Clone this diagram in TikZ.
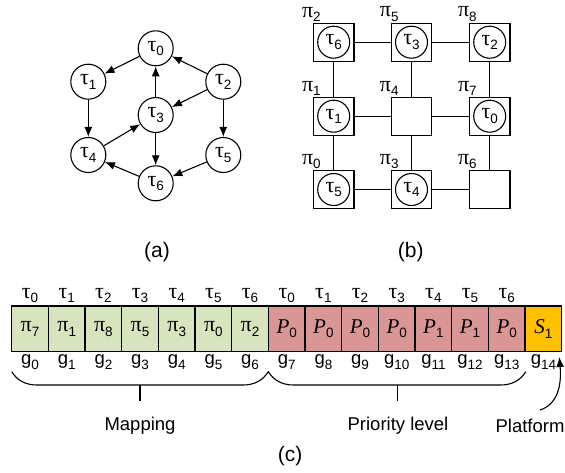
\documentclass[tikz,border=0pt]{standalone}
\usepackage{fontspec}
\setmainfont{Liberation Sans}
\newfontfamily\grkfont{Liberation Serif}
\usetikzlibrary{arrows.meta}

\definecolor{mapgreen}{HTML}{D7E4BD}
\definecolor{priored}{HTML}{D99694}
\definecolor{platorange}{HTML}{FFC000}

\newcommand{\lowsub}[1]{\raisebox{-4.5pt}{\fontsize{13.5}{14}\selectfont #1}}
\newcommand{\tsk}[1]{{\grkfont\fontsize{22}{24}\selectfont τ}\lowsub{#1}}
\newcommand{\prc}[1]{{\grkfont\fontsize{22}{24}\selectfont π}\lowsub{#1}}
\newcommand{\gbit}[1]{g\lowsub{#1}}
\newcommand{\plev}[1]{{\grkfont\itshape\fontsize{21}{24}\selectfont P}\lowsub{#1}}
\newcommand{\pfm}[1]{{\grkfont\itshape\fontsize{21}{24}\selectfont S}\lowsub{#1}}

\tikzset{
  task/.style={circle, draw, minimum size=35pt, inner sep=0pt},
  mapped/.style={circle, draw, minimum size=32pt, inner sep=0pt},
  core/.style={draw, minimum width=40.5pt, minimum height=38pt, inner sep=0pt},
  gene/.style={draw, minimum width=36.67pt, minimum height=45.7pt, inner sep=0pt},
  corelbl/.style={anchor=south, inner sep=0.5pt, xshift=-1.5pt},
  caption/.style={font=\fontsize{21}{24}\selectfont},
  every label/.style={inner sep=1pt}
}

\begin{document}
\begin{tikzpicture}[x=1pt, y=-1pt, >={Latex[length=10pt,width=8pt]}, line width=1.1pt,
    font=\fontsize{18.5}{21}\selectfont]
    \useasboundingbox (0,0) rectangle (565,472);

    % (a) task graph
    \node[task] (t0) at (155.7,48.3) {\tsk{0}};
    \node[task] (t1) at (88.3,81.7) {\tsk{1}};
    \node[task] (t2) at (223.3,81.7) {\tsk{2}};
    \node[task] (t3) at (155.7,115) {\tsk{3}};
    \node[task] (t4) at (88.3,155) {\tsk{4}};
    \node[task] (t5) at (223.3,155) {\tsk{5}};
    \node[task] (t6) at (155.7,183.3) {\tsk{6}};
    \draw[->] (t0) -- (t1);
    \draw[->] (t2) -- (t0);
    \draw[->] (t2) -- (t3);
    \draw[->] (t3) -- (t0);
    \draw[->] (t1) -- (t4);
    \draw[->] (t4) -- (t3);
    \draw[->] (t3) -- (t6);
    \draw[->] (t2) -- (t5);
    \draw[->] (t5) -- (t6);
    \draw[->] (t6) -- (t4);
    \node[caption] (capa) at (157,251.7) {(a)};

    % (b) 3x3 mesh with mapped tasks
    \node[core, label={[corelbl]north west:\prc{2}}] (pe2) at (333.7,42.2) {};
    \node[core, label={[corelbl]north west:\prc{5}}] (pe5) at (411.5,42.2) {};
    \node[core, label={[corelbl]north west:\prc{8}}] (pe8) at (489.7,42.2) {};
    \node[core, label={[corelbl]north west:\prc{1}}] (pe1) at (333.7,116.2) {};
    \node[core, label={[corelbl]north west:\prc{4}}] (pe4) at (411.5,116.2) {};
    \node[core, label={[corelbl]north west:\prc{7}}] (pe7) at (489.7,116.2) {};
    \node[core, label={[corelbl]north west:\prc{0}}] (pe0) at (333.7,189.5) {};
    \node[core, label={[corelbl]north west:\prc{3}}] (pe3) at (411.5,189.5) {};
    \node[core, label={[corelbl]north west:\prc{6}}] (pe6) at (489.7,189.5) {};
    \node[mapped] (m6) at (pe2) {\tsk{6}};
    \node[mapped] (m3) at (pe5) {\tsk{3}};
    \node[mapped] (m2) at (pe8) {\tsk{2}};
    \node[mapped] (m1) at (pe1) {\tsk{1}};
    \node[mapped] (m0) at (pe7) {\tsk{0}};
    \node[mapped] (m5) at (pe0) {\tsk{5}};
    \node[mapped] (m4) at (pe3) {\tsk{4}};
    \draw (pe2) -- (pe5) (pe5) -- (pe8);
    \draw (pe1) -- (pe4) (pe4) -- (pe7);
    \draw (pe0) -- (pe3) (pe3) -- (pe6);
    \draw (pe2) -- (pe1) (pe1) -- (pe0);
    \draw (pe5) -- (pe4) (pe4) -- (pe3);
    \draw (pe8) -- (pe7) (pe7) -- (pe6);
    \node[caption] (capb) at (410.8,251.7) {(b)};

    % (c) chromosome
    \tikzset{label distance=1pt}
    \node[gene, fill=mapgreen, label=above:\tsk{0}, label=below:\gbit{0}] (g0) at (30.0,328.8) {\prc{7}};
    \node[gene, fill=mapgreen, label=above:\tsk{1}, label=below:\gbit{1}] (g1) at (66.7,328.8) {\prc{1}};
    \node[gene, fill=mapgreen, label=above:\tsk{2}, label=below:\gbit{2}] (g2) at (103.4,328.8) {\prc{8}};
    \node[gene, fill=mapgreen, label=above:\tsk{3}, label=below:\gbit{3}] (g3) at (140.0,328.8) {\prc{5}};
    \node[gene, fill=mapgreen, label=above:\tsk{4}, label=below:\gbit{4}] (g4) at (176.7,328.8) {\prc{3}};
    \node[gene, fill=mapgreen, label=above:\tsk{5}, label=below:\gbit{5}] (g5) at (213.4,328.8) {\prc{0}};
    \node[gene, fill=mapgreen, label=above:\tsk{6}, label=below:\gbit{6}] (g6) at (250.0,328.8) {\prc{2}};
    \node[gene, fill=priored, label=above:\tsk{0}, label=below:\gbit{7}] (g7) at (286.7,328.8) {\plev{0}};
    \node[gene, fill=priored, label=above:\tsk{1}, label=below:\gbit{8}] (g8) at (323.4,328.8) {\plev{0}};
    \node[gene, fill=priored, label=above:\tsk{2}, label=below:\gbit{9}] (g9) at (360.0,328.8) {\plev{0}};
    \node[gene, fill=priored, label=above:\tsk{3}, label=below:\gbit{10}] (g10) at (396.7,328.8) {\plev{0}};
    \node[gene, fill=priored, label=above:\tsk{4}, label=below:\gbit{11}] (g11) at (433.4,328.8) {\plev{1}};
    \node[gene, fill=priored, label=above:\tsk{5}, label=below:\gbit{12}] (g12) at (470.0,328.8) {\plev{1}};
    \node[gene, fill=priored, label=above:\tsk{6}, label=below:\gbit{13}] (g13) at (506.7,328.8) {\plev{0}};
    \node[gene, fill=platorange, label=below:\gbit{14}] (g14) at (543.4,328.8) {\pfm{1}};

    % braces under the genes
    \draw (11.7,371.7) .. controls (17,380) and (25,385) .. (37,385) -- (243,385)
        .. controls (255,385) and (263,380) .. (268.3,371.7)
        .. controls (273.6,380) and (281.6,385) .. (293.6,385) -- (500.5,385)
        .. controls (512.5,385) and (520.5,380) .. (525.8,371.7);
    \draw (140,385) -- (140,401);
    \draw (397.2,385) -- (397.2,401);
    \node (map) at (140,426) {Mapping};
    \node (prio) at (398,426) {Priority level};
    \node (plat) at (530,426) {Platform};
    \coordinate (ptail) at (540,410);
    \coordinate (ptip) at (559.3,357);
    \draw[->] (ptail) .. controls (556,405) and (562,388) .. (ptip);
    \node[caption] (capc) at (290,456) {(c)};
\end{tikzpicture}
\end{document}
